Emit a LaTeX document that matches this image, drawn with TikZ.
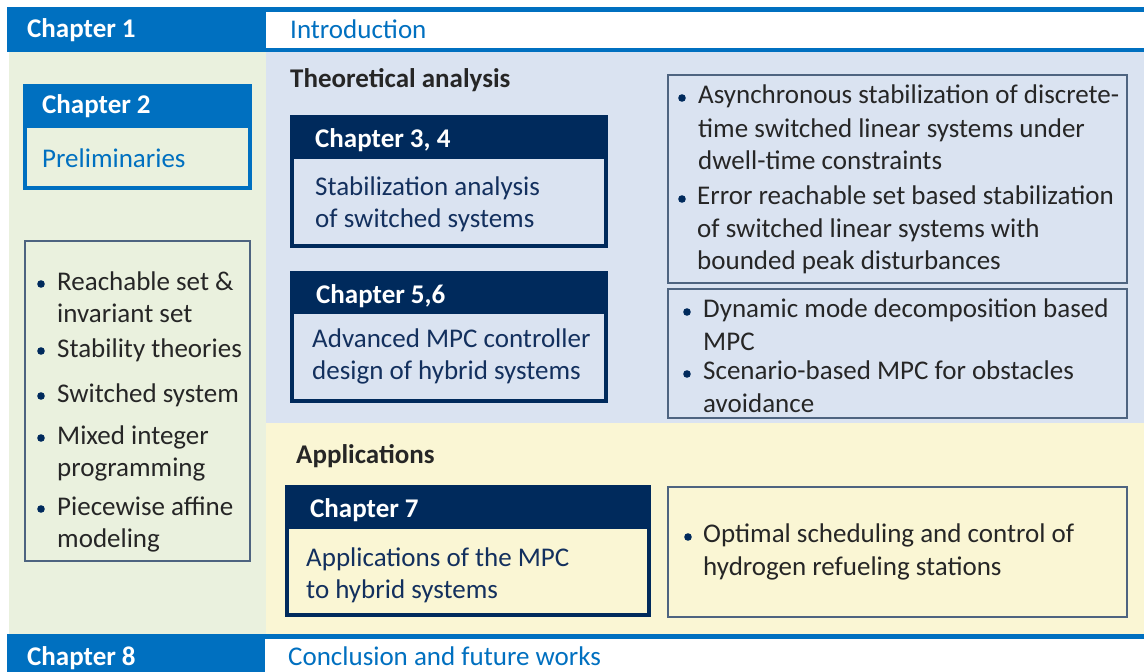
\documentclass[tikz,border=0pt]{standalone}
\usepackage{fontspec}
\setmainfont{Carlito}
\definecolor{cblue}{HTML}{0070C0}
\definecolor{cnavy}{HTML}{002A5C}
\definecolor{cnavytext}{HTML}{13305E}
\definecolor{cdark}{HTML}{262626}
\definecolor{cgreen}{HTML}{EAF1DE}
\definecolor{cpaleblue}{HTML}{DAE3F1}
\definecolor{cyellow}{HTML}{FAF6D4}
\definecolor{cframe}{HTML}{4E6480}
\tikzset{
  txt/.style={anchor=base west, inner sep=0pt, font=\fontsize{27}{32}\selectfont},
  bodytxt/.style={txt, text=cdark},
  headtxt/.style={txt, text=white, font=\fontsize{27}{32}\selectfont\bfseries},
  sectitle/.style={txt, text=cdark, font=\fontsize{27}{32}\selectfont\bfseries},
  chaptxt/.style={txt, text=cnavytext},
  bluetxt/.style={txt, text=cblue},
  framebox/.style={draw=cframe, line width=1.5pt},
  dot/.style={fill=cnavy}
}
\newcommand{\bulletdot}[2]{\fill[dot] (#1,#2) circle (3.8);}
\begin{document}
\begin{tikzpicture}[x=1pt,y=-1pt]
\useasboundingbox (0,0) rectangle (1144,672);
\fill[white] (0,0) rectangle (1144,672);

% background panels
\fill[cgreen] (9,52) rectangle (266,634);
\fill[cpaleblue] (266,52) rectangle (1144,423);
\fill[cyellow] (266,423) rectangle (1144,634);

% chapter 1 bar
\fill[cblue] (7,7) rectangle (1144,52);
\fill[white] (266,12) rectangle (1144,48);
\node[headtxt] (ch1) at (27,37) {Chapter 1};
\node[bluetxt] (intro) at (290,38) {Introduction};

% chapter 8 bar
\fill[cblue] (7,634) rectangle (1144,672);
\fill[white] (265,639) rectangle (1144,672);
\node[headtxt] (ch8) at (27,665) {Chapter 8};
\node[bluetxt] (concl) at (288,665) {Conclusion and future works};

% chapter 2
\fill[cblue] (23,84) rectangle (252,190);
\fill[cgreen] (27,128) rectangle (248,186);
\node[headtxt] (ch2) at (42,113) {Chapter 2};
\node[bluetxt] (prelim) at (42,167) {Preliminaries};

% preliminaries list
\draw[framebox] (25,241) rectangle (250,561);
\bulletdot{41}{284}
\node[bodytxt] (p1a) at (57,290) {Reachable set \&};
\node[bodytxt] (p1b) at (57,322) {invariant set};
\bulletdot{41}{351}
\node[bodytxt] (p2) at (57,357) {Stability theories};
\bulletdot{41}{396}
\node[bodytxt] (p3) at (57,402) {Switched system};
\bulletdot{41}{438}
\node[bodytxt] (p4a) at (57,444) {Mixed integer};
\node[bodytxt] (p4b) at (57,476) {programming};
\bulletdot{41}{509}
\node[bodytxt] (p5a) at (57,515) {Piecewise affine};
\node[bodytxt] (p5b) at (57,547) {modeling};

% theoretical analysis
\node[sectitle] (theo) at (290,87) {Theoretical analysis};

\fill[cnavy] (290,115) rectangle (608,248);
\fill[cpaleblue] (294,159) rectangle (604,244);
\node[headtxt] (ch34) at (315,147) {Chapter 3, 4};
\node[chaptxt] (ch34a) at (315,195) {Stabilization analysis};
\node[chaptxt] (ch34b) at (315,227) {of switched systems};

\fill[cnavy] (290,271) rectangle (608,403);
\fill[cpaleblue] (294,314) rectangle (604,399);
\node[headtxt] (ch56) at (316,303) {Chapter 5,6};
\node[chaptxt] (ch56a) at (312,347) {Advanced MPC controller};
\node[chaptxt] (ch56b) at (312,379) {design of hybrid systems};

\draw[framebox] (668,75) rectangle (1127,283);
\bulletdot{682}{98}
\node[bodytxt] (t1a) at (698,103) {Asynchronous stabilization of discrete-};
\node[bodytxt] (t1b) at (698,137) {time switched linear systems under};
\node[bodytxt] (t1c) at (698,169) {dwell-time constraints};
\bulletdot{682}{199}
\node[bodytxt] (t2a) at (697,204) {Error reachable set based stabilization};
\node[bodytxt] (t2b) at (697,237) {of switched linear systems with};
\node[bodytxt] (t2c) at (697,269) {bounded peak disturbances};

\draw[framebox] (668,289) rectangle (1127,418);
\bulletdot{687}{312}
\node[bodytxt] (m1a) at (703,317) {Dynamic mode decomposition based};
\node[bodytxt] (m1b) at (703,350) {MPC};
\bulletdot{687}{374}
\node[bodytxt] (m2a) at (703,379) {Scenario-based MPC for obstacles};
\node[bodytxt] (m2b) at (703,412) {avoidance};

% applications
\node[sectitle] (appl) at (296,463) {Applications};

\fill[cnavy] (285,485) rectangle (651,617);
\fill[cyellow] (289,529) rectangle (647,613);
\node[headtxt] (ch7) at (310,517) {Chapter 7};
\node[chaptxt] (ch7a) at (306,566) {Applications of the MPC};
\node[chaptxt] (ch7b) at (306,598) {to hybrid systems};

\draw[framebox] (668,487) rectangle (1127,617);
\bulletdot{688}{537}
\node[bodytxt] (a1a) at (703,542) {Optimal scheduling and control of};
\node[bodytxt] (a1b) at (703,575) {hydrogen refueling stations};
\end{tikzpicture}
\end{document}
